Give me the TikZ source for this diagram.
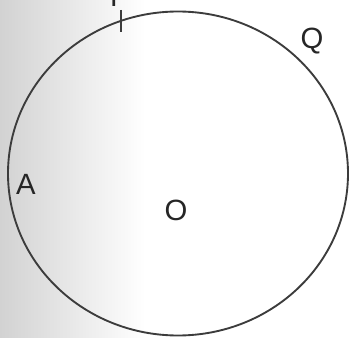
\documentclass[tikz,border=0pt]{standalone}
\usepackage{fontspec}
\setmainfont{Liberation Sans}
\usetikzlibrary{positioning}
\definecolor{rimgray}{RGB}{60,60,60}
\definecolor{shadegray}{RGB}{210,210,210}

\begin{document}
\begin{tikzpicture}[x=0.03cm, y=-0.03cm,
  lbl/.style={font=\fontsize{25}{30}\selectfont, text=black!85, inner sep=0pt},
  rim/.style={draw=rimgray, line width=1.6pt}
]
  \useasboundingbox (0,0) rectangle (351,338);
  \shade[left color=shadegray, right color=white] (0,0) rectangle (145,338);
  \fill[white] (145,0) rectangle (351,338);
  \coordinate (O) at (178,173.5);
  \draw[rim] (O) ellipse [x radius=170, y radius=162];
  \coordinate (tickTop) at (121,10);
  \coordinate (tickBot) at (121,32);
  \draw[rim] (tickTop) -- (tickBot);
  \node[lbl, anchor=south west] (lblP) at (110,7) {P};
  \node[lbl] (lblA) at (26,184) {A};
  \node[lbl] (lblO) at (176,210) {O};
  \node[lbl] (lblQ) at (312,41) {Q};
\end{tikzpicture}
\end{document}
